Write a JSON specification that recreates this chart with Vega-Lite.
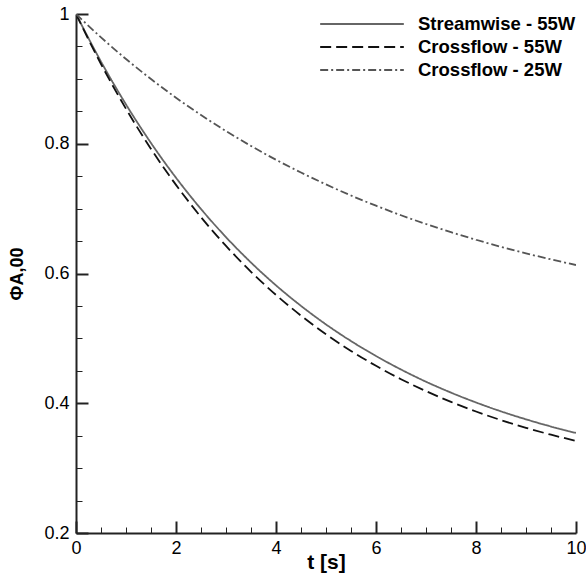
{
  "$schema": "https://vega.github.io/schema/vega-lite/v6.json",
  "width": 500,
  "height": 519,
  "autosize": "none",
  "padding": {"left": 76, "top": 14, "right": 10, "bottom": 46},
  "background": "white",
  "config": {
    "view": {"stroke": null},
    "font": "Liberation Sans"
  },
  "data": {"values": [
    {"t": 0, "phi": 1, "case": "Streamwise - 55W"},
    {"t": 0.5, "phi": 0.9266, "case": "Streamwise - 55W"},
    {"t": 1, "phi": 0.8606, "case": "Streamwise - 55W"},
    {"t": 1.5, "phi": 0.8011, "case": "Streamwise - 55W"},
    {"t": 2, "phi": 0.7476, "case": "Streamwise - 55W"},
    {"t": 2.5, "phi": 0.6994, "case": "Streamwise - 55W"},
    {"t": 3, "phi": 0.656, "case": "Streamwise - 55W"},
    {"t": 3.5, "phi": 0.6169, "case": "Streamwise - 55W"},
    {"t": 4, "phi": 0.5817, "case": "Streamwise - 55W"},
    {"t": 4.5, "phi": 0.5501, "case": "Streamwise - 55W"},
    {"t": 5, "phi": 0.5215, "case": "Streamwise - 55W"},
    {"t": 5.5, "phi": 0.4959, "case": "Streamwise - 55W"},
    {"t": 6, "phi": 0.4728, "case": "Streamwise - 55W"},
    {"t": 6.5, "phi": 0.452, "case": "Streamwise - 55W"},
    {"t": 7, "phi": 0.4332, "case": "Streamwise - 55W"},
    {"t": 7.5, "phi": 0.4164, "case": "Streamwise - 55W"},
    {"t": 8, "phi": 0.4012, "case": "Streamwise - 55W"},
    {"t": 8.5, "phi": 0.3875, "case": "Streamwise - 55W"},
    {"t": 9, "phi": 0.3752, "case": "Streamwise - 55W"},
    {"t": 9.5, "phi": 0.3641, "case": "Streamwise - 55W"},
    {"t": 10, "phi": 0.3542, "case": "Streamwise - 55W"},
    {"t": 0, "phi": 1, "case": "Crossflow - 55W"},
    {"t": 0.5, "phi": 0.9229, "case": "Crossflow - 55W"},
    {"t": 1, "phi": 0.8539, "case": "Crossflow - 55W"},
    {"t": 1.5, "phi": 0.792, "case": "Crossflow - 55W"},
    {"t": 2, "phi": 0.7366, "case": "Crossflow - 55W"},
    {"t": 2.5, "phi": 0.6869, "case": "Crossflow - 55W"},
    {"t": 3, "phi": 0.6425, "case": "Crossflow - 55W"},
    {"t": 3.5, "phi": 0.6026, "case": "Crossflow - 55W"},
    {"t": 4, "phi": 0.567, "case": "Crossflow - 55W"},
    {"t": 4.5, "phi": 0.535, "case": "Crossflow - 55W"},
    {"t": 5, "phi": 0.5063, "case": "Crossflow - 55W"},
    {"t": 5.5, "phi": 0.4807, "case": "Crossflow - 55W"},
    {"t": 6, "phi": 0.4577, "case": "Crossflow - 55W"},
    {"t": 6.5, "phi": 0.4371, "case": "Crossflow - 55W"},
    {"t": 7, "phi": 0.4187, "case": "Crossflow - 55W"},
    {"t": 7.5, "phi": 0.4021, "case": "Crossflow - 55W"},
    {"t": 8, "phi": 0.3873, "case": "Crossflow - 55W"},
    {"t": 8.5, "phi": 0.374, "case": "Crossflow - 55W"},
    {"t": 9, "phi": 0.3622, "case": "Crossflow - 55W"},
    {"t": 9.5, "phi": 0.3515, "case": "Crossflow - 55W"},
    {"t": 10, "phi": 0.342, "case": "Crossflow - 55W"},
    {"t": 0, "phi": 1, "case": "Crossflow - 25W"},
    {"t": 0.5, "phi": 0.964, "case": "Crossflow - 25W"},
    {"t": 1, "phi": 0.9306, "case": "Crossflow - 25W"},
    {"t": 1.5, "phi": 0.8997, "case": "Crossflow - 25W"},
    {"t": 2, "phi": 0.8709, "case": "Crossflow - 25W"},
    {"t": 2.5, "phi": 0.8443, "case": "Crossflow - 25W"},
    {"t": 3, "phi": 0.8195, "case": "Crossflow - 25W"},
    {"t": 3.5, "phi": 0.7966, "case": "Crossflow - 25W"},
    {"t": 4, "phi": 0.7753, "case": "Crossflow - 25W"},
    {"t": 4.5, "phi": 0.7556, "case": "Crossflow - 25W"},
    {"t": 5, "phi": 0.7373, "case": "Crossflow - 25W"},
    {"t": 5.5, "phi": 0.7202, "case": "Crossflow - 25W"},
    {"t": 6, "phi": 0.7045, "case": "Crossflow - 25W"},
    {"t": 6.5, "phi": 0.6898, "case": "Crossflow - 25W"},
    {"t": 7, "phi": 0.6763, "case": "Crossflow - 25W"},
    {"t": 7.5, "phi": 0.6637, "case": "Crossflow - 25W"},
    {"t": 8, "phi": 0.652, "case": "Crossflow - 25W"},
    {"t": 8.5, "phi": 0.6411, "case": "Crossflow - 25W"},
    {"t": 9, "phi": 0.6311, "case": "Crossflow - 25W"},
    {"t": 9.5, "phi": 0.6218, "case": "Crossflow - 25W"},
    {"t": 10, "phi": 0.6131, "case": "Crossflow - 25W"}
  ]},
  "mark": {"type": "line", "interpolate": "monotone", "clip": true},
  "encoding": {
    "x": {
      "field": "t", "type": "quantitative",
      "scale": {"domain": [0, 10], "nice": false, "zero": false},
      "axis": {
        "values": [0, 0.5, 1, 1.5, 2, 2.5, 3, 3.5, 4, 4.5, 5, 5.5, 6, 6.5, 7, 7.5, 8, 8.5, 9, 9.5, 10],
        "labelExpr": "abs(datum.value/2 - round(datum.value/2)) < 0.001 ? format(datum.value, '~g') : ''",
        "tickSize": {"condition": {"test": "abs(datum.value/2 - round(datum.value/2)) < 0.001", "value": -12}, "value": -6},
        "tickColor": "#222",
        "tickWidth": {"condition": {"test": "abs(datum.value/2 - round(datum.value/2)) < 0.001", "value": 2}, "value": 1},
        "domainColor": "#222",
        "domainWidth": 2,
        "grid": false,
        "labelFontSize": 18,
        "labelColor": "black",
        "labelPadding": 18,
        "labelFlush": false,
        "title": "t [s]",
        "titleFontSize": 21,
        "titleFontWeight": "bold",
        "titleColor": "black",
        "titlePadding": -6
      }
    },
    "y": {
      "field": "phi", "type": "quantitative",
      "scale": {"domain": [0.2, 1], "nice": false, "zero": false},
      "axis": {
        "values": [0.2, 0.25, 0.3, 0.35, 0.4, 0.45, 0.5, 0.55, 0.6, 0.65, 0.7, 0.75, 0.8, 0.85, 0.9, 0.95, 1],
        "labelExpr": "abs(datum.value*5 - round(datum.value*5)) < 0.001 ? format(datum.value, '.1~f') : ''",
        "tickSize": {"condition": {"test": "abs(datum.value*5 - round(datum.value*5)) < 0.001", "value": -12}, "value": -6},
        "tickWidth": {"condition": {"test": "abs(datum.value*5 - round(datum.value*5)) < 0.001", "value": 2}, "value": 1},
        "tickColor": "#222",
        "domainColor": "#222",
        "domainWidth": 2,
        "grid": false,
        "labelFontSize": 18,
        "labelColor": "black",
        "labelPadding": 19,
        "labelFlush": false,
        "title": "ΦA,00",
        "titleFontSize": 18,
        "titleFontWeight": "bold",
        "titleColor": "black",
        "titlePadding": 17
      }
    },
    "color": {
      "field": "case", "type": "nominal",
      "scale": {"domain": ["Streamwise - 55W", "Crossflow - 55W", "Crossflow - 25W"], "range": ["#666666", "#111111", "#555555"]},
      "legend": {
        "title": null,
        "orient": "top-right",
        "offset": 0,
        "padding": 0,
        "symbolType": "stroke",
        "symbolSize": 7000,
        "symbolStrokeWidth": 2,
        "clipHeight": 20,
        "labelFontSize": 18.5,
        "labelFontWeight": "bold",
        "labelColor": "black",
        "labelOffset": 13,
        "rowPadding": 3
      }
    },
    "strokeDash": {
      "field": "case", "type": "nominal",
      "scale": {"domain": ["Streamwise - 55W", "Crossflow - 55W", "Crossflow - 25W"], "range": [[1, 0], [11, 5], [8, 3, 2, 3]]},
      "legend": {
        "title": null,
        "orient": "top-right",
        "offset": 0,
        "padding": 0,
        "symbolType": "stroke",
        "symbolSize": 7000,
        "symbolStrokeWidth": 2,
        "clipHeight": 20,
        "labelFontSize": 18.5,
        "labelFontWeight": "bold",
        "labelColor": "black",
        "labelOffset": 13,
        "rowPadding": 3
      }
    },
    "strokeWidth": {"value": 1.8}
  }
}
